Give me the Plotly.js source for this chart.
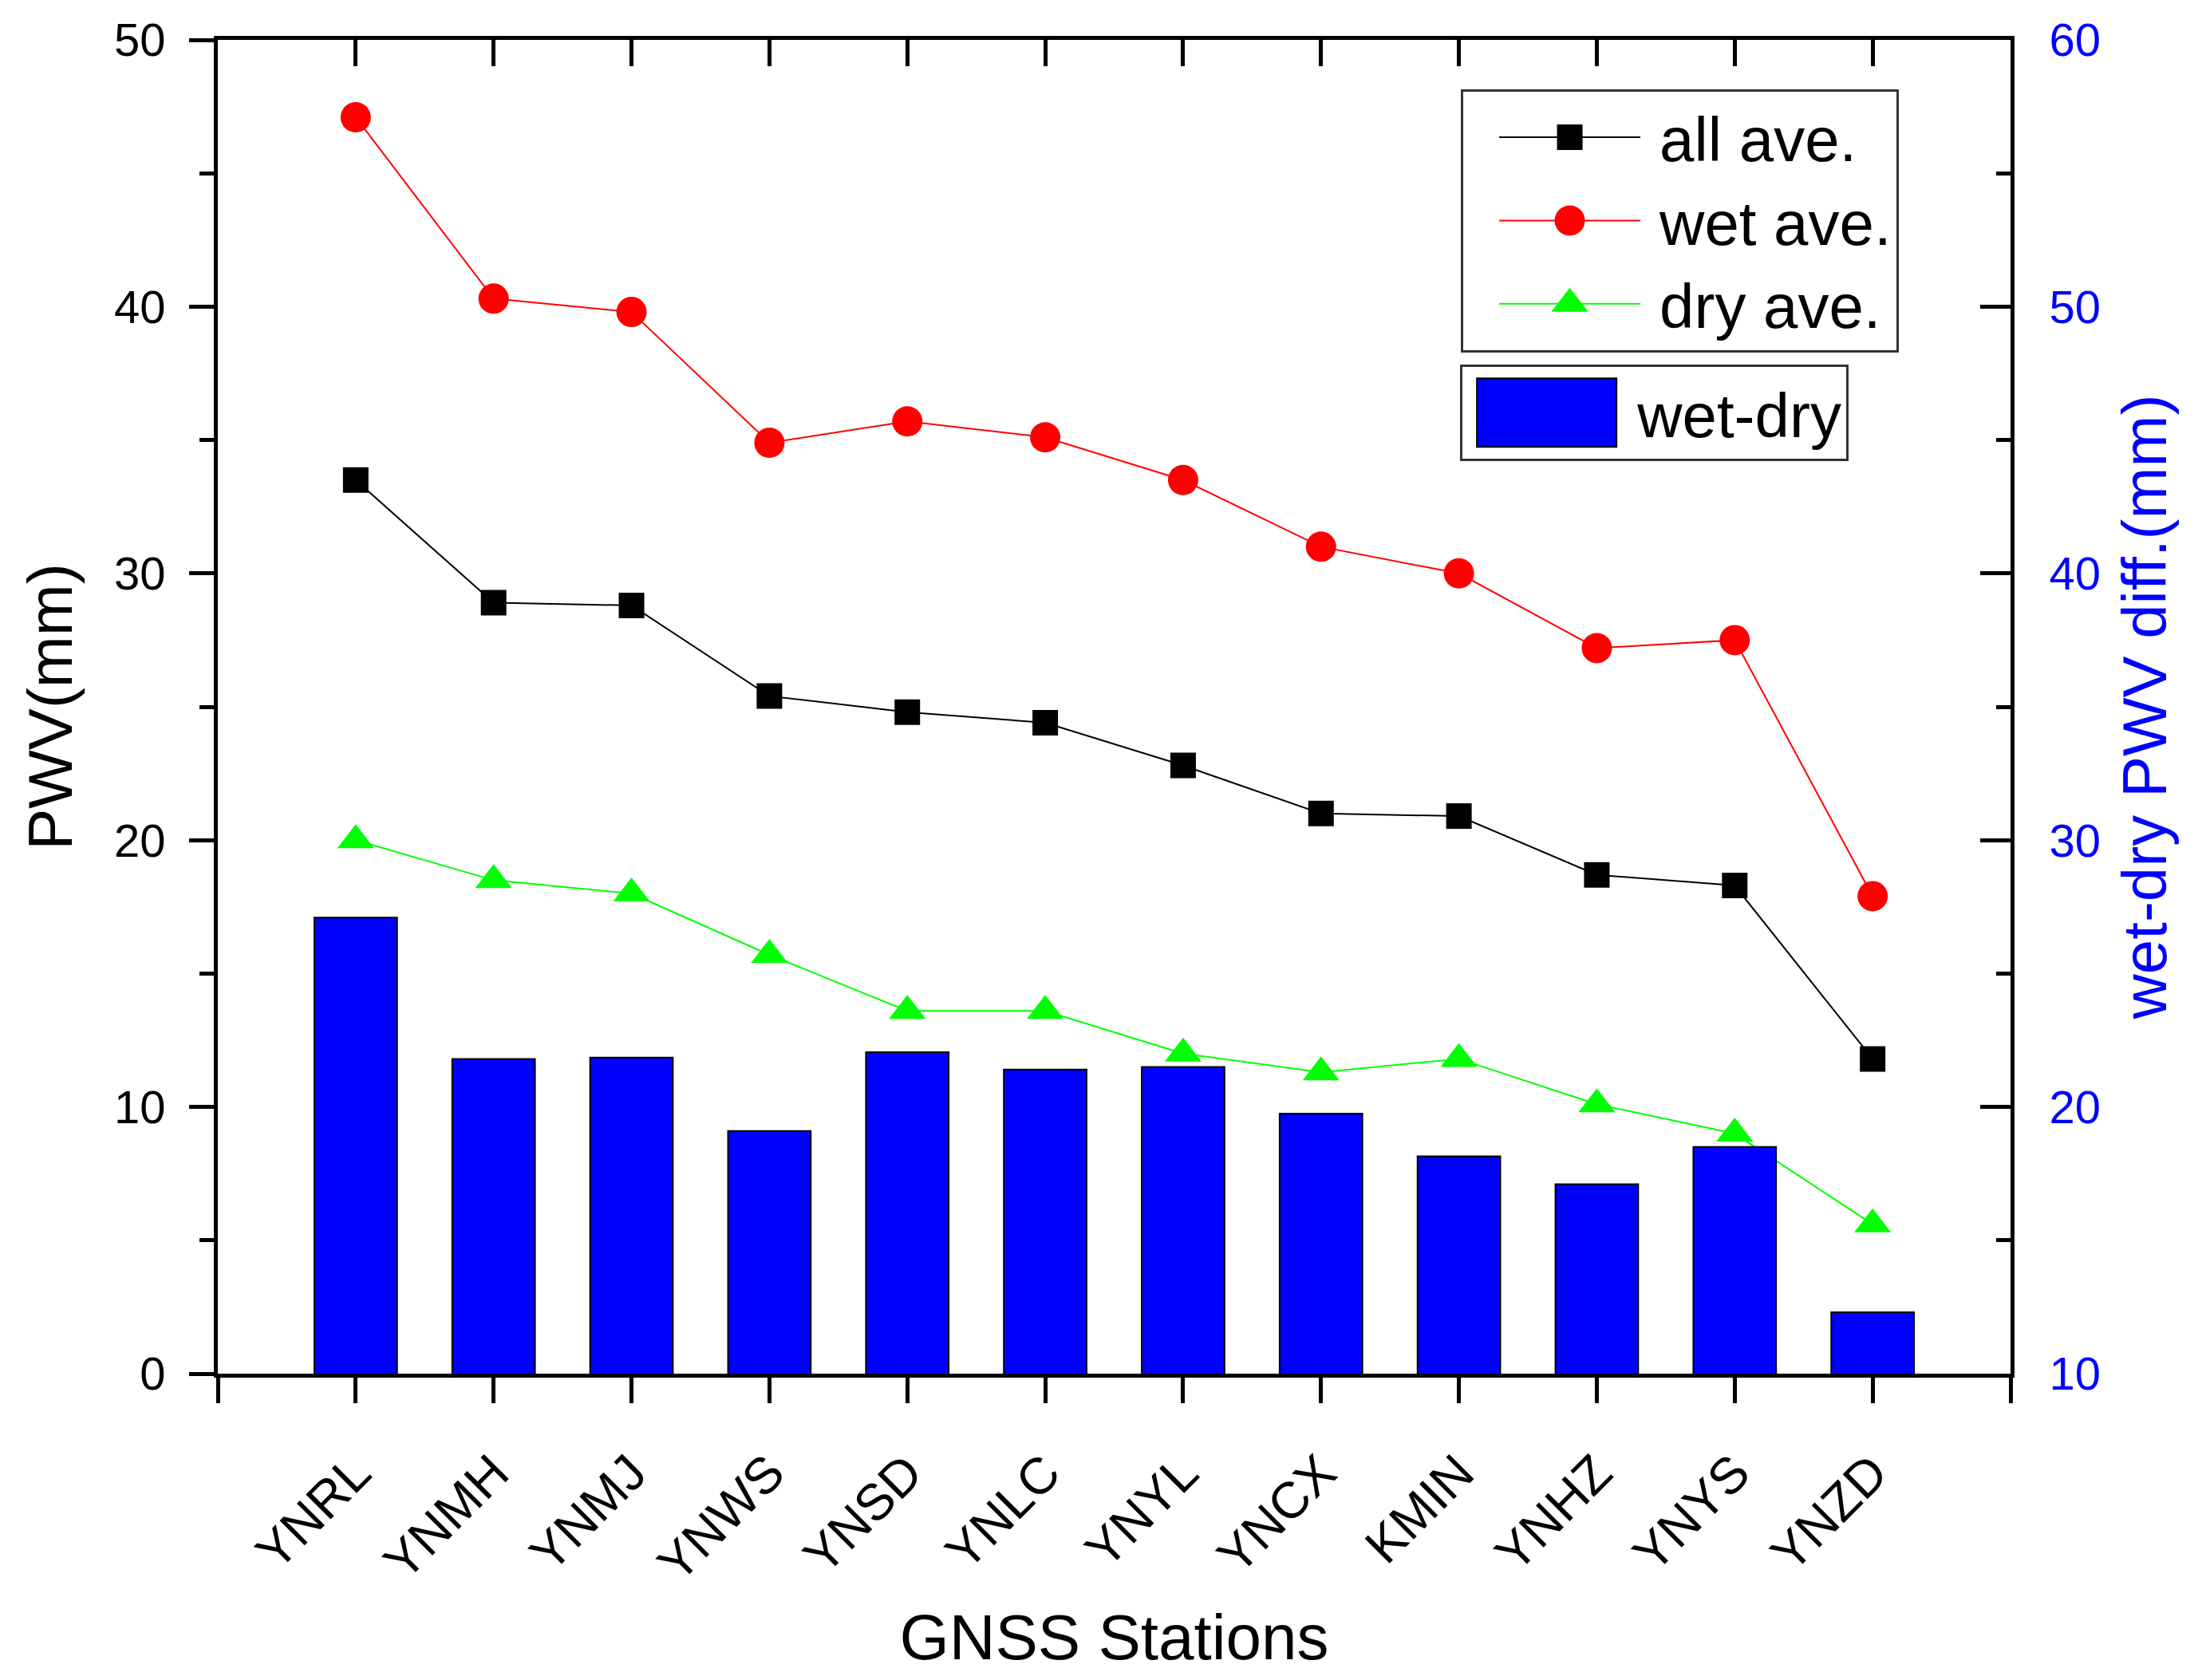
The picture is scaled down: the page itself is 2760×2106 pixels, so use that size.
<!DOCTYPE html>
<html>
<head>
<meta charset="utf-8">
<script src="https://cdn.plot.ly/plotly-3.0.1.min.js"></script>
<style>html,body{margin:0;padding:0;background:#fff;}#chart{width:2760px;height:2106px;}</style>
</head>
<body>
<div id="chart"></div>
<script>
const stations = ["YNRL","YNMH","YNMJ","YNWS","YNSD","YNLC","YNYL","YNCX","KMIN","YNHZ","YNYS","YNZD"];
const allAve = [33.5, 28.9, 28.8, 25.4, 24.8, 24.4, 22.8, 21.0, 20.9, 18.7, 18.3, 11.8];
const wetAve = [47.1, 40.3, 39.8, 34.9, 35.7, 35.1, 33.5, 31.0, 30.0, 27.2, 27.5, 17.9];
const dryAve = [20.0, 18.5, 18.0, 15.7, 13.6, 13.6, 12.0, 11.3, 11.8, 10.1, 9.0, 5.6];
const wetDry = [27.1, 21.8, 21.85, 19.1, 22.05, 21.4, 21.5, 19.75, 18.15, 17.1, 18.5, 12.3];
const leftTicks = [0, 10, 20, 30, 40, 50];
const rightTicks = [10, 20, 30, 40, 50, 60];

const idx = stations.map((s, i) => i);
const FONT = "Liberation Sans, Arial, sans-serif";
const NB = "\u00a0\u00a0\u00a0\u00a0\u00a0";

const traces = [
  {type: "bar", name: "wet-dry", x: idx, y: wetDry, xaxis: "x2", yaxis: "y2",
   width: 0.6, marker: {color: "#0000FF", line: {color: "#000000", width: 2}}, legend: "legend2"},
  {type: "scatter", mode: "lines+markers", name: "all ave.", x: idx, y: allAve,
   line: {color: "#000000", width: 2}, marker: {symbol: "square", size: 32, color: "#000000"}},
  {type: "scatter", mode: "lines+markers", name: "wet ave.", x: idx, y: wetAve,
   line: {color: "#FF0000", width: 2}, marker: {symbol: "circle", size: 38, color: "#FF0000"}},
  {type: "scatter", mode: "lines+markers", name: "dry ave.", x: idx, y: dryAve,
   line: {color: "#00FF00", width: 2}, marker: {symbol: "triangle-up", size: 40, color: "#00FF00"}}
];

const tv = [-1].concat(idx, [12]);
const tt = [""].concat(stations, [""]);

const layout = {
  width: 2760, height: 2106,
  margin: {l: 273, r: 240, t: 50, b: 384},
  paper_bgcolor: "#ffffff", plot_bgcolor: "#ffffff",
  font: {family: FONT, color: "#000000"},
  showlegend: true,
  xaxis: {
    range: [-1, 12], tickvals: tv, ticktext: tt, tickangle: -45,
    ticks: "outside", ticklen: 32, tickwidth: 5, tickcolor: "#000",
    showline: true, linewidth: 5, linecolor: "#000", showgrid: false, zeroline: false,
    tickfont: {size: 64, family: FONT}, ticklabelstandoff: 24,
    title: {text: "GNSS Stations", font: {size: 80, family: FONT}, standoff: 30}
  },
  xaxis2: {
    overlaying: "x", side: "top", range: [-1, 12], tickvals: idx,
    ticks: "inside", ticklen: 33, tickwidth: 5, tickcolor: "#000",
    showline: true, linewidth: 5, linecolor: "#000", showgrid: false, zeroline: false,
    showticklabels: false
  },
  yaxis: {
    range: [0, 50], tickvals: leftTicks,
    ticks: "outside", ticklen: 31, tickwidth: 5, tickcolor: "#000",
    minor: {dtick: 5, ticks: "outside", ticklen: 18, tickwidth: 5, tickcolor: "#000", showgrid: false},
    showline: true, linewidth: 5, linecolor: "#000", showgrid: false, zeroline: false,
    tickfont: {size: 58, family: FONT}, ticklabelstandoff: 18,
    title: {text: "PWV(mm)" + NB, font: {size: 78, family: FONT}, standoff: 28}
  },
  yaxis2: {
    overlaying: "y", side: "right", range: [10, 60], tickvals: rightTicks,
    ticks: "inside", ticklen: 38, tickwidth: 5, tickcolor: "#000",
    minor: {dtick: 5, ticks: "inside", ticklen: 18, tickwidth: 5, tickcolor: "#000", showgrid: false},
    showline: true, linewidth: 5, linecolor: "#000", showgrid: false, zeroline: false,
    tickfont: {size: 58, family: FONT, color: "#0000FF"}, ticklabelstandoff: 32,
    title: {text: "wet-dry PWV diff.(mm)" + NB, font: {size: 78, family: FONT, color: "#0000FF"}, standoff: 30}
  },
  legend: {
    x: 0.6934, y: 0.963, xanchor: "left", yanchor: "top",
    bgcolor: "#ffffff", bordercolor: "#333333", borderwidth: 3,
    font: {size: 78, family: FONT, color: "#000"}, itemwidth: 236, tracegroupgap: 0
  },
  legend2: {
    x: 0.693, y: 0.7566, xanchor: "left", yanchor: "top",
    bgcolor: "#ffffff", bordercolor: "#333333", borderwidth: 3,
    font: {size: 78, family: FONT, color: "#000"}, itemwidth: 209
  }
};

function enlargeLegendSymbols(gd) {
  gd.querySelectorAll("g.traces").forEach(function (g) {
    const cd = g.__data__;
    const trace = cd && cd[0] && cd[0].trace;
    if (!trace) return;
    if (trace.type === "scatter") {
      g.querySelectorAll("path.js-line").forEach(function (p) { p.setAttribute("d", "M45,0h177"); });
      const k = trace.marker.size / 16;
      g.querySelectorAll("path.scatterpts").forEach(function (p) {
        p.setAttribute("transform", "translate(133.5,0) scale(" + k + ")");
      });
    } else if (trace.type === "bar") {
      g.querySelectorAll("g.legendpoints path").forEach(function (p) {
        p.setAttribute("d", "M87.5,43H-87.5V-43H87.5Z");
        p.setAttribute("transform", "translate(105.5,0)");
      });
    }
  });
}

Plotly.newPlot("chart", traces, layout, {displayModeBar: false, staticPlot: true})
  .then(function (gd) { enlargeLegendSymbols(gd); });
</script>
</body>
</html>
